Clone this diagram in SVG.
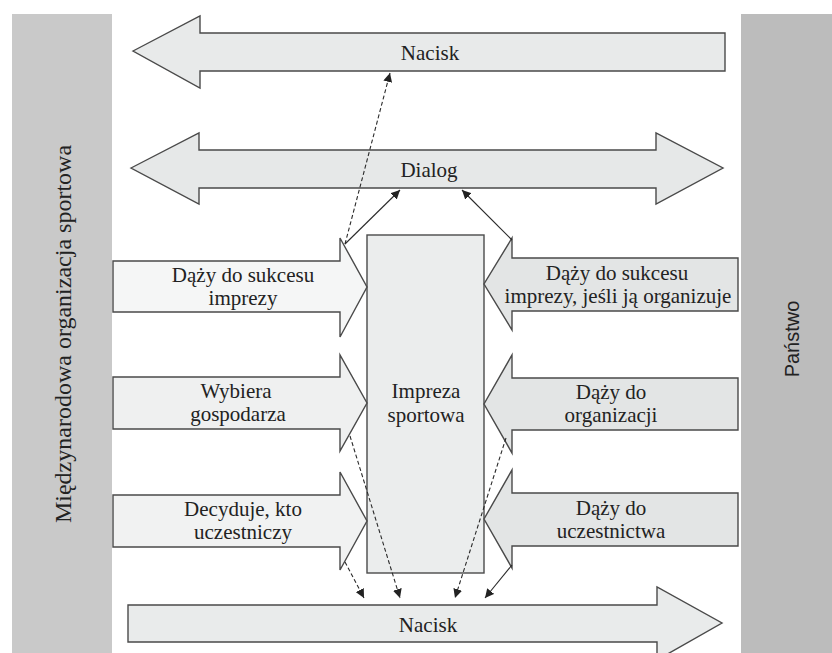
<svg xmlns="http://www.w3.org/2000/svg" width="832" height="653" viewBox="0 0 832 653">
<defs>
<marker id="ah" viewBox="0 0 10 10" refX="10" refY="5" markerWidth="9" markerHeight="9" markerUnits="userSpaceOnUse" orient="auto">
<path d="M0,0 L10,5 L0,10 z" fill="#222"/>
</marker>
</defs>
<style>
.band{stroke:none}
.arr{stroke:#4a4a4a;stroke-width:1.4;stroke-linejoin:miter}
.t{font-family:"Liberation Serif","Times New Roman",serif;font-size:21px;fill:#222;text-anchor:middle}
.c{fill:none;stroke:#2a2a2a;stroke-width:1.1;marker-end:url(#ah)}
.d{stroke-dasharray:4 2.5}
</style>
<rect width="832" height="653" fill="#ffffff"/>
<g id="org">
<rect class="band" x="12" y="14" width="100" height="639" fill="#c9c9c9"/>
<text class="t" style="font-size:24px" transform="translate(71,334) rotate(-90)">Międzynarodowa organizacja sportowa</text>
</g>
<g id="panstwo">
<rect class="band" x="741" y="14" width="91" height="639" fill="#bcbcbc"/>
<text transform="translate(799,339) rotate(-90)" text-anchor="middle" style="font-family:'Liberation Sans',Arial,sans-serif;font-size:20px;fill:#222">Państwo</text>
</g>
<g id="nacisk-top">
<polygon class="arr" fill="#e8eaea" points="133,51 200,16 200,33 725,33 725,71 200,71 200,88"/>
<text class="t" x="430" y="60">Nacisk</text>
</g>
<g id="dialog">
<polygon class="arr" fill="#e6e8e8" points="131,168 199,133 199,150 656,150 656,133 723,168 656,204 656,188 199,188 199,204"/>
<text class="t" x="429" y="177">Dialog</text>
</g>
<g id="impreza">
<rect class="arr" fill="#ebeded" x="367" y="235" width="117" height="338"/>
<text class="t" x="426" y="398">Impreza</text>
<text class="t" x="426" y="422">sportowa</text>
</g>
<g id="l1">
<polygon class="arr" fill="#f5f6f6" points="113,261 340,261 340,238 367,287 340,337 340,312 113,312"/>
<text class="t" x="243" y="282">Dąży do sukcesu</text>
<text class="t" x="243" y="305">imprezy</text>
</g>
<g id="l2">
<polygon class="arr" fill="#eff0f0" points="113,377 340,377 340,355 367,403 340,451 340,429 113,429"/>
<text class="t" x="236" y="398">Wybiera</text>
<text class="t" x="238" y="421">gospodarza</text>
</g>
<g id="l3">
<polygon class="arr" fill="#f1f2f2" points="113,495 340,495 340,472 367,521 340,570 340,547 113,547"/>
<text class="t" x="243" y="516">Decyduje, kto</text>
<text class="t" x="243" y="539">uczestniczy</text>
</g>
<g id="r1">
<polygon class="arr" fill="#e3e5e5" points="738,258 512,258 512,238 484,284 512,330 512,311 738,311"/>
<text class="t" x="617" y="280">Dąży do sukcesu</text>
<text class="t" x="618" y="303">imprezy, jeśli ją organizuje</text>
</g>
<g id="r2">
<polygon class="arr" fill="#e3e5e5" points="738,378 512,378 512,355 484,404 512,453 512,430 738,430"/>
<text class="t" x="611" y="399">Dąży do</text>
<text class="t" x="611" y="422">organizacji</text>
</g>
<g id="r3">
<polygon class="arr" fill="#e3e5e5" points="738,493 512,493 512,470 484,519 512,568 512,546 738,546"/>
<text class="t" x="611" y="515">Dąży do</text>
<text class="t" x="611" y="538">uczestnictwa</text>
</g>
<g id="nacisk-bottom">
<polygon class="arr" fill="#e9ebeb" points="128,605 657,605 657,587 722,623 657,660 657,642 128,642"/>
<text class="t" x="428" y="632">Nacisk</text>
</g>
<g id="connectors">
<line class="c d" x1="345" y1="244" x2="390" y2="73"/>
<line class="c" x1="345" y1="244" x2="400" y2="190"/>
<line class="c" x1="512" y1="240" x2="462" y2="190"/>
<line class="c d" x1="350" y1="436" x2="400" y2="598"/>
<line class="c d" x1="345" y1="562" x2="364" y2="598"/>
<line class="c d" x1="506" y1="438" x2="455" y2="598"/>
<line class="c" x1="512" y1="565" x2="485" y2="598"/>
</g>
</svg>
